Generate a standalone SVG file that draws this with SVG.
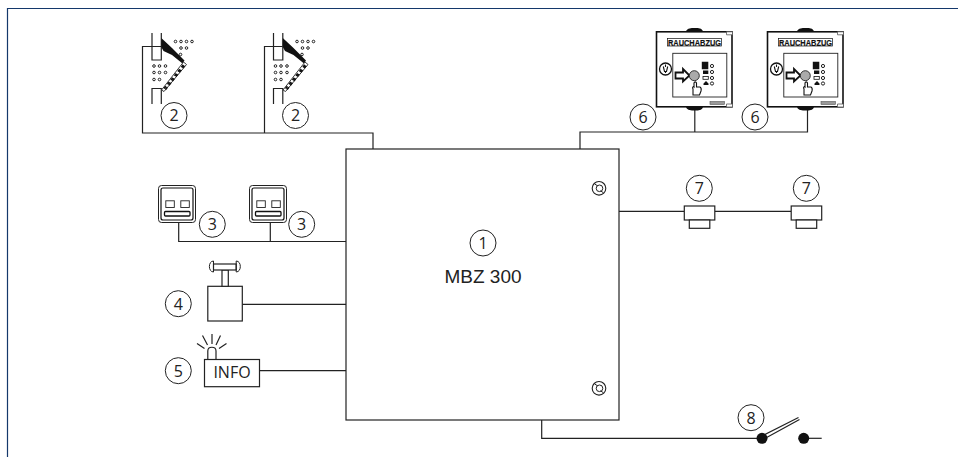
<svg xmlns="http://www.w3.org/2000/svg" xmlns:xlink="http://www.w3.org/1999/xlink" width="958" height="457" viewBox="0 0 958 457">
<style>
.l{fill:none;stroke:#222;stroke-width:1.2}
.w{fill:#fff;stroke:#222;stroke-width:1.2}
.c{fill:#fff;stroke:#222;stroke-width:1}
.n{font-family:"Open Sans","Noto Sans",sans-serif;font-size:16px;fill:#222;text-anchor:middle}
.k{fill:#111;stroke:none}
.d{fill:none;stroke:#222;stroke-width:1}
.r{font-family:"Liberation Sans",Arial,sans-serif;font-size:9px;font-weight:bold;fill:#111;stroke:#111;stroke-width:.2;text-anchor:middle}
</style>
<defs>
<g id="flap">
<path class="l" d="M152 33V60H161.300V33M152 104V88.500H161.300V104"/>
<path class="k" d="M161.300 38L172 48 184.500 60.500 182.500 63.500 172 55 163.500 51 161.300 47Z"/>
<path d="M161.500 90L183.500 62 186.500 64.500 164 91.500Z" fill="#fff" stroke="#222" stroke-width=".9"/>
<path d="M164 88.500L184 64M165.500 89.500L185 65" stroke="#111" stroke-width="1.600" stroke-dasharray="3 2.500" fill="none"/>
<g class="d">
<circle cx="175.500" cy="41.500" r="1.300"/><circle cx="181" cy="41.500" r="1.300"/><circle cx="186.500" cy="41.500" r="1.300"/><circle cx="192" cy="41.500" r="1.300"/>
<circle cx="181" cy="48" r="1.300"/><circle cx="186.500" cy="48" r="1.300"/><circle cx="180.500" cy="54.500" r="1.300"/>
<circle cx="154" cy="66" r="1.300"/><circle cx="159.500" cy="66" r="1.300"/><circle cx="165.500" cy="66" r="1.300"/>
<circle cx="154" cy="72.500" r="1.300"/><circle cx="159.500" cy="72.500" r="1.300"/><circle cx="165.500" cy="72.500" r="1.300"/>
<circle cx="154" cy="79.500" r="1.300"/><circle cx="159.500" cy="79.500" r="1.300"/>
</g>
</g>
<g id="panel">
<path class="k" d="M686 31.500C687 28 692 28 693.500 28H696C698 28 702 28 703 31.500ZM686 107C687 110.500 692 110.500 694 110.500H696C698 110.500 702 110.500 703 107Z"/>
<rect x="656.500" y="31.800" width="75.500" height="75" fill="#fff" stroke="#111" stroke-width="1.600"/>
<path d="M726.500 31.800h6v3h-6zM726.500 104h6v3h-6z" fill="#fff" stroke="#555" stroke-width=".8"/>
<rect x="710" y="101.500" width="14.500" height="3" fill="#999" stroke="#555" stroke-width=".6"/>
<rect x="672.800" y="53.300" width="54" height="43.700" fill="#fff" stroke="#222" stroke-width=".9"/>
<circle cx="665.500" cy="69" r="6" fill="#fff" stroke="#111" stroke-width="1.300"/>
<path d="M665.500 64.500V67M663.300 66.500L664.500 71.500H666.500L667.700 66.500M665.500 71V73" fill="none" stroke="#111" stroke-width="1.100"/>
<path d="M675.500 72.500H683V69L689.500 75.500 683 81.500V78.500H675.500Z" fill="#fff" stroke="#111" stroke-width="1.800"/>
<circle cx="694.300" cy="75.700" r="5" fill="#aaa" stroke="#222" stroke-width=".9"/>
<path class="k" d="M701.800 61.700h6.500v7.600h-6.500zM703 70.500h5.300v3.500h-5.300zM703.500 85h5v-1.500l-2.500-2.500-2.500 2.500z"/>
<rect x="703" y="76.500" width="5.300" height="2.800" fill="#fff" stroke="#111" stroke-width=".8"/>
<circle cx="712" cy="66" r="1.600" class="d"/><circle cx="712" cy="72" r="1.600" class="d"/><circle cx="712" cy="78" r="1.600" class="d"/><circle cx="712" cy="83.500" r="1.600" class="d"/>
<path d="M693 95V89C692 87.500 693 86 694 87V83C694.500 81.500 696 81.500 696.500 83V87H700C701 87.500 701.500 89 701 91L699.500 95Z" fill="#fff" stroke="#111" stroke-width="1.100"/>
</g>
<g id="push">
<rect x="158.500" y="185.500" width="37" height="37" rx="3" fill="#fff" stroke="#222" stroke-width="1"/>
<rect x="161" y="188" width="32" height="32" rx="2" fill="#fff" stroke="#111" stroke-width="1.200"/>
<rect x="165.800" y="200.800" width="8.500" height="6.700" fill="#fff" stroke="#222" stroke-width=".9"/>
<rect x="180.800" y="200.800" width="8.500" height="6.700" fill="#fff" stroke="#222" stroke-width=".9"/>
<rect x="164.500" y="211.500" width="25.500" height="4.500" rx="1" fill="#fff" stroke="#111" stroke-width="1.300"/>
</g>
<g id="bump">
<rect x="0" y="0" width="30.500" height="14" class="w"/>
<rect x="5" y="14" width="20.500" height="8.300" class="w"/>
</g>
<g id="screw">
<circle cx="0" cy="0" r="6.800" fill="#fff" stroke="#222" stroke-width="1.100"/>
<circle cx="0.500" cy="0" r="3.300" class="d"/>
<path class="d" d="M-4.500 -4.500L-1.500 -2.500M1.500 2.500L4.500 4.500"/>
</g>
</defs>
<path id="frame" d="M7.500 457V8.500H958" fill="none" stroke="#14386b" stroke-width="1.200"/>
<g id="connectors" class="l">
<path d="M161 46.500H142.500V133H373V149"/>
<path d="M282.500 46.500H264.500V133"/>
<path d="M580 149V132H807.500V109M694.800 109V132"/>
<path d="M178.700 222V241.500H346M270.300 222V241.500"/>
<path d="M242.300 304.300H346"/>
<path d="M259.300 370.700H346"/>
<path d="M619 211.300H684.300M714.800 211.300H791"/>
<path d="M541.700 420V438.300H762"/>
<path d="M803.700 438.300H821.700"/>
</g>
<g id="node-1">
<rect x="346" y="149" width="273" height="271" fill="#fff" stroke="#222" stroke-width="1.200"/>
<use xlink:href="#screw" x="599" y="188.300"/>
<use xlink:href="#screw" x="599" y="388.300"/>
<circle cx="483" cy="243" r="13" class="c"/>
<text class="n" x="483" y="248.800">1</text>
<text x="483" y="283" font-family="'Liberation Sans',Arial,sans-serif" font-size="19" fill="#222" text-anchor="middle">MBZ 300</text>
</g>
<g id="node-2a">
<use xlink:href="#flap"/>
<circle cx="174" cy="115.500" r="13" class="c"/>
<text class="n" x="174" y="121.300">2</text>
</g>
<g id="node-2b">
<use xlink:href="#flap" x="121.500"/>
<circle cx="295.500" cy="115.500" r="13" class="c"/>
<text class="n" x="295.500" y="121.300">2</text>
</g>
<g id="node-6a">
<use xlink:href="#panel"/>
<rect x="667.500" y="38.500" width="54" height="7.500" fill="#fff" stroke="#111" stroke-width=".7"/>
<text class="r" x="694.500" y="45.500" textLength="53" lengthAdjust="spacingAndGlyphs">RAUCHABZUG</text>
<circle cx="643" cy="117" r="13" class="c"/>
<text class="n" x="643" y="122.800">6</text>
</g>
<g id="node-6b">
<use xlink:href="#panel" x="111"/>
<rect x="778.500" y="38.500" width="54" height="7.500" fill="#fff" stroke="#111" stroke-width=".7"/>
<text class="r" x="805.500" y="45.500" textLength="53" lengthAdjust="spacingAndGlyphs">RAUCHABZUG</text>
<circle cx="755" cy="117" r="13" class="c"/>
<text class="n" x="755" y="122.800">6</text>
</g>
<g id="node-3a">
<use xlink:href="#push"/>
<circle cx="212.300" cy="224.300" r="13" class="c"/>
<text class="n" x="212.300" y="230.100">3</text>
</g>
<g id="node-3b">
<use xlink:href="#push" x="91"/>
<circle cx="301.700" cy="224.300" r="13" class="c"/>
<text class="n" x="301.700" y="230.100">3</text>
</g>
<g id="node-4">
<rect x="207.800" y="286.300" width="34.500" height="34.700" class="w"/>
<rect x="222" y="270" width="6.300" height="16.300" class="w"/>
<rect x="213.500" y="264" width="22.700" height="6" class="w"/>
<path d="M213.500 261C208 261 208 272 213.500 272ZM236.200 261C241.700 261 241.700 272 236.200 272Z" fill="none" stroke="#222" stroke-width="1"/>
<circle cx="178.300" cy="303.700" r="13" class="c"/>
<text class="n" x="178.300" y="309.500">4</text>
</g>
<g id="node-5">
<path class="l" d="M207.800 359.300V351C207.800 346 216 346 216 351V359.300"/>
<path class="l" d="M212 344V334M207.500 345L202.500 335.500M216 345L220.500 335.500M204.500 348.500L197 343.500M219 348.500L226.500 343.500"/>
<rect x="204.500" y="359.500" width="55" height="27.200" class="w"/>
<text x="232" y="378.200" font-family="'Open Sans','Noto Sans',sans-serif" font-size="16" fill="#222" text-anchor="middle">INFO</text>
<circle cx="178.300" cy="370.700" r="13" class="c"/>
<text class="n" x="178.300" y="376.500">5</text>
</g>
<g id="node-7a">
<use xlink:href="#bump" x="684.300" y="206"/>
<circle cx="699.300" cy="188.300" r="13" class="c"/>
<text class="n" x="699.300" y="194.100">7</text>
</g>
<g id="node-7b">
<use xlink:href="#bump" x="791.200" y="206"/>
<circle cx="806.300" cy="188.300" r="13" class="c"/>
<text class="n" x="806.300" y="194.100">7</text>
</g>
<g id="node-8">
<path class="l" d="M762 436L798.500 417.500M763 439.500L799.500 419.500"/>
<circle cx="762" cy="438.300" r="5.500" class="k"/>
<circle cx="803.700" cy="438.300" r="5.500" class="k"/>
<circle cx="751" cy="417.700" r="13" class="c"/>
<text class="n" x="751" y="423.500">8</text>
</g>
</svg>
